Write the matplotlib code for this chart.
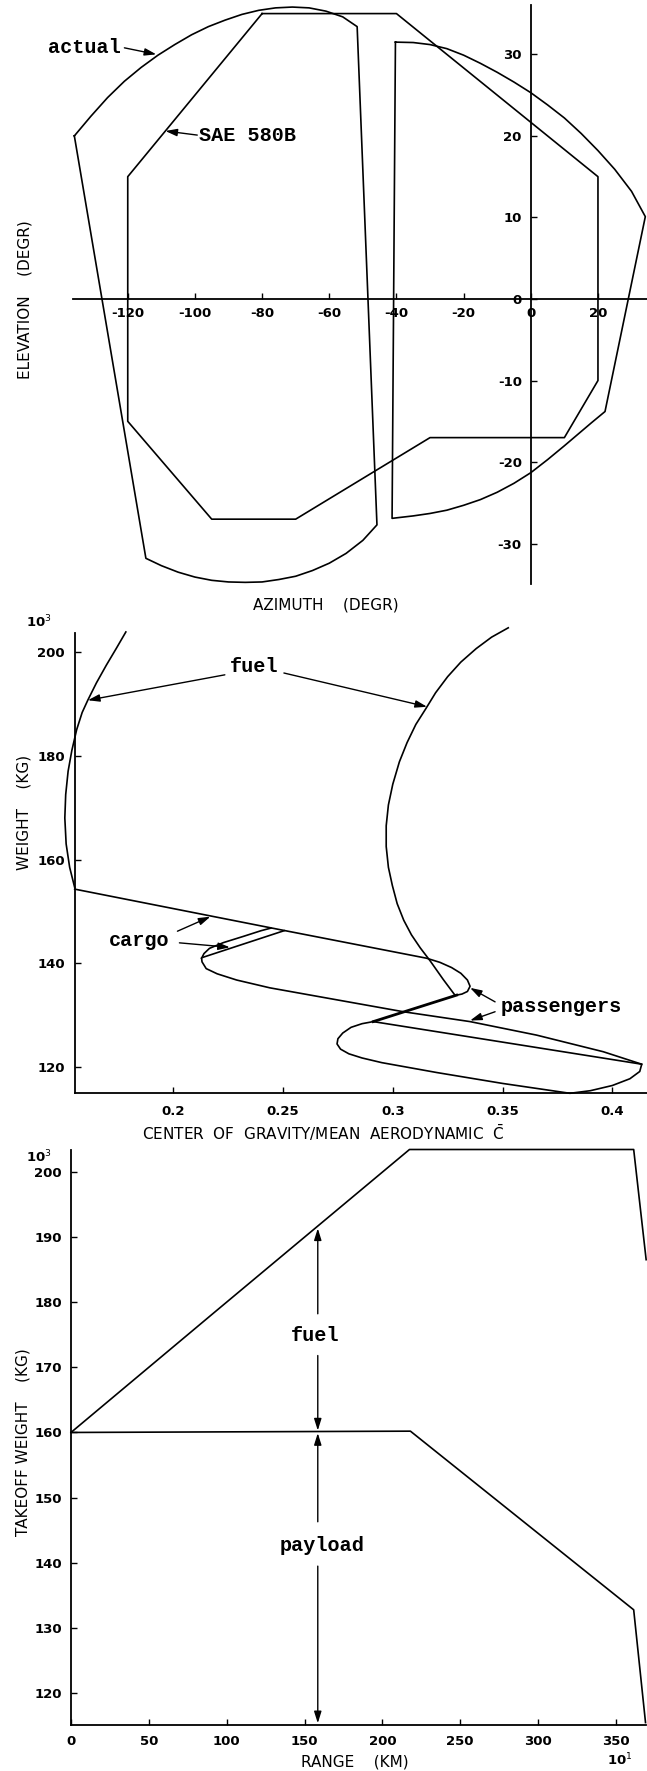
import matplotlib
matplotlib.use('Agg')
import matplotlib.pyplot as plt

plt.rcParams['font.family'] = ['DejaVu Sans']
plt.rcParams['axes.unicode_minus'] = False
plt.rcParams['mathtext.fontset'] = 'dejavusans'

W, H = 647, 1771

# ---- panel 1: elevation vs azimuth (degr)
actual_left_az = [-135.9, -131, -126, -121, -116, -111, -106, -101, -96, -91, -86, -81, -76, -71,
                  -66, -61, -56, -51.7,
                  -45.8, -50, -55, -60, -65, -70, -75, -80, -85, -90, -95, -100, -105, -110,
                  -114.6, -135.9]
actual_left_el = [20.0, 22.4, 24.7, 26.7, 28.4, 29.9, 31.2, 32.4, 33.4, 34.2, 34.9, 35.4, 35.7, 35.8,
                  35.7, 35.3, 34.6, 33.4,
                  -27.7, -29.6, -31.2, -32.4, -33.3, -34.0, -34.4, -34.7, -34.75, -34.7, -34.5,
                  -34.1, -33.5, -32.7, -31.8, 20.0]
actual_right_az = [-40.3, -35, -30, -25, -20, -15, -10, -5, 0, 5, 10, 15, 20, 25, 30, 34.1,
                   22.1, 18, 14, 10, 5, 0, -5, -10, -15, -20, -25, -30, -35, -41.3, -40.3]
actual_right_el = [31.5, 31.45, 31.2, 30.7, 29.9, 28.9, 27.8, 26.6, 25.3, 23.8, 22.2, 20.3, 18.2,
                   15.9, 13.2, 10.1,
                   -13.8, -15.2, -16.6, -18.0, -19.7, -21.3, -22.6, -23.7, -24.6, -25.3, -25.9,
                   -26.3, -26.6, -26.9, 31.5]
sae_az = [-80, -40, 20, 20, 10, -30, -70, -95, -120, -120, -80]
sae_el = [35, 35, 15, -10, -17, -17, -27, -27, -15, 15, 35]
az_ticks = [-120, -100, -80, -60, -40, -20, 0, 20]
el_ticks = [-30, -20, -10, 0, 10, 20, 30]

# ---- panel 2: weight (10^3 kg) vs centre of gravity
fuel_left_cg = [0.1784, 0.1740, 0.1695, 0.1650, 0.1611, 0.1585, 0.1560, 0.1538, 0.1521, 0.1510,
                0.1506, 0.1512, 0.1528, 0.1551]
fuel_left_w = [203.8, 200.6, 197.4, 194.0, 190.7, 188.3, 185.0, 181.0, 177.0, 172.5,
               168.0, 163.0, 158.5, 154.6]
fuel_right_cg = [0.3526, 0.3450, 0.3380, 0.3310, 0.3250, 0.3195, 0.3150, 0.3105, 0.3065, 0.3030,
                 0.3000, 0.2980, 0.2970, 0.2970, 0.2980, 0.2998, 0.3020, 0.3050, 0.3085, 0.3125,
                 0.3170, 0.3230, 0.3283]
fuel_right_w = [204.6, 202.8, 200.6, 198.0, 195.2, 192.1, 189.0, 186.0, 182.5, 178.8,
                174.5, 170.5, 166.5, 162.5, 158.5, 155.0, 151.5, 148.3, 145.5, 143.0,
                140.5, 136.9, 133.9]
main_cg = [0.1551, 0.2486, 0.3154, 0.3215, 0.3268, 0.3310, 0.3340, 0.3352, 0.3340, 0.3315, 0.3291]
main_w = [154.3, 146.5, 141.0, 140.2, 139.2, 138.1, 136.8, 135.6, 134.6, 134.1, 133.9]
cargo_a_cg = [0.2129, 0.2140, 0.2165, 0.2228, 0.2319, 0.2400, 0.2445]
cargo_a_w = [141.0, 141.9, 142.9, 144.0, 145.2, 146.3, 146.8]
cargo_b_cg = [0.2137, 0.2505]
cargo_b_w = [141.2, 146.3]
long_cg = [0.2129, 0.2131, 0.2150, 0.2200, 0.2289, 0.2440, 0.2744, 0.3048, 0.3352, 0.3655,
           0.3959, 0.4134]
long_w = [141.0, 140.3, 139.0, 138.0, 136.8, 135.3, 133.0, 130.7, 128.8, 126.2, 123.0, 120.6]
pax_link_cg = [0.3291, 0.2911]
pax_link_w = [133.9, 128.8]
pax_loop_cg = [0.2911, 0.2860, 0.2810, 0.2772, 0.2750, 0.2746, 0.2762, 0.2800, 0.2860, 0.2950,
               0.3200, 0.3500, 0.3807, 0.3900, 0.4000, 0.4080, 0.4125, 0.4134, 0.2911]
pax_loop_w = [128.8, 128.4, 127.7, 126.6, 125.5, 124.5, 123.5, 122.6, 121.8, 120.9,
              119.0, 116.9, 115.0, 115.5, 116.5, 117.8, 119.2, 120.6, 128.8]
cg_ticks = [0.2, 0.25, 0.3, 0.35, 0.4]
cg_labels = ['0.2', '0.25', '0.3', '0.35', '0.4']
w_ticks = [120, 140, 160, 180, 200]

# ---- panel 3: takeoff weight (10^3 kg) vs range (10 km)
range_total = [0, 91, 217.4, 361.4, 369.4]
w_total = [160.0, 178.2, 203.4, 203.4, 186.5]
range_payload = [0, 218, 361.4, 369.0]
w_payload = [160.0, 160.2, 132.8, 115.5]
range_ticks = [0, 50, 100, 150, 200, 250, 300, 350]
tow_ticks = [120, 130, 140, 150, 160, 170, 180, 190, 200]

LW = 1.2
mono = 'Liberation Mono'
note = dict(family=mono, fontsize=14.5, fontweight='bold', va='center')
arrow = dict(arrowstyle='-|>,head_length=0.7,head_width=0.22', color='k', lw=1.0,
             shrinkA=0, shrinkB=0)


def px_axes(left, right, top, bottom):
    return [left / W, 1 - bottom / H, (right - left) / W, (bottom - top) / H]


def style(ax, xpad, ypad):
    for s in ['top', 'right']:
        ax.spines[s].set_visible(False)
    for s in ['left', 'bottom']:
        ax.spines[s].set_linewidth(1.3)
    ax.tick_params(direction='in', length=4.5, width=1.0, labelsize=9.5)
    ax.tick_params(axis='x', pad=xpad)
    ax.tick_params(axis='y', pad=ypad)
    for lab in ax.get_xticklabels() + ax.get_yticklabels():
        lab.set_fontweight('bold')
    ax.patch.set_visible(False)


def arr(ax, start, tip):
    ax.annotate('', xy=tip, xytext=start, arrowprops=arrow, annotation_clip=False)


def ftext(x, y, s, **kw):
    fig.text(x / W, 1 - y / H, s, ha='center', va='center', **kw)


fig = plt.figure(figsize=(W / 100, H / 100), dpi=100)

# panel 1
ax1 = fig.add_axes(px_axes(73, 647, 3.8, 584.4))
ax1.set_xlim(-136.3, 34.6)
ax1.set_ylim(-35, 36.2)
ax1.spines['left'].set_position(('data', 0))
ax1.spines['bottom'].set_position(('data', 0))
ax1.spines['left'].set_bounds(-35, 36)
ax1.set_xticks(az_ticks)
ax1.set_yticks(el_ticks)
style(ax1, 5.5, 6.5)
ax1.plot(actual_left_az, actual_left_el, color='k', lw=LW, clip_on=False)
ax1.plot(actual_right_az, actual_right_el, color='k', lw=LW, clip_on=False)
ax1.plot(sae_az, sae_el, color='k', lw=LW, clip_on=False)
ax1.text(-122.0, 30.8, 'actual', ha='right', **note)
arr(ax1, (-121.0, 30.8), (-111.5, 30.0))
ax1.text(-98.8, 20.0, 'SAE 580B', ha='left', **note)
arr(ax1, (-99.3, 20.1), (-108.8, 20.6))

ftext(25, 300, 'ELEVATION    (DEGR)', fontsize=11, rotation=90)
ftext(326, 605, 'AZIMUTH    (DEGR)', fontsize=11)

# panel 2
ax2 = fig.add_axes(px_axes(74.7, 647, 633.0, 1093.3))
ax2.set_xlim(0.1551, 0.4158)
ax2.set_ylim(115.0, 203.6)
ax2.set_xticks(cg_ticks)
ax2.set_xticklabels(cg_labels)
ax2.set_yticks(w_ticks)
style(ax2, 8.6, 7.0)
for xs, ys in [(fuel_left_cg, fuel_left_w), (fuel_right_cg, fuel_right_w), (main_cg, main_w),
               (cargo_a_cg, cargo_a_w), (cargo_b_cg, cargo_b_w), (long_cg, long_w),
               (pax_loop_cg, pax_loop_w)]:
    ax2.plot(xs, ys, color='k', lw=LW, clip_on=False)
ax2.plot(pax_link_cg, pax_link_w, color='k', lw=2.0, clip_on=False)

ax2.text(0.2368, 197.1, 'fuel', ha='center', **note)
arr(ax2, (0.2235, 195.55), (0.1611, 190.66))
arr(ax2, (0.2504, 195.9), (0.3156, 189.4))
ax2.text(0.1843, 144.5, 'cargo', ha='center', **note)
arr(ax2, (0.2019, 146.2), (0.2169, 149.0))
arr(ax2, (0.2028, 143.96), (0.2258, 143.1))
ax2.text(0.3769, 131.7, 'passengers', ha='center', **note)
arr(ax2, (0.3466, 132.6), (0.3352, 135.3))
arr(ax2, (0.3466, 130.7), (0.3352, 129.0))

ftext(39, 622, '10$^3$', fontsize=9.5, fontweight='bold')
ftext(24.5, 812, 'WEIGHT    (KG)', fontsize=11, rotation=90)
ftext(323, 1133, r'CENTER  OF  GRAVITY/MEAN  AERODYNAMIC  $\bar{\mathrm{C}}$', fontsize=11)

# panel 3
ax3 = fig.add_axes(px_axes(71, 646.3, 1149.5, 1725.2))
ax3.set_xlim(0, 369.5)
ax3.set_ylim(115.1, 203.4)
ax3.set_xticks(range_ticks)
ax3.set_yticks(tow_ticks)
style(ax3, 7.2, 6.7)
ax3.plot(range_total, w_total, color='k', lw=LW, clip_on=False)
ax3.plot(range_payload, w_payload, color='k', lw=LW, clip_on=False)

ax3.text(156.5, 174.9, 'fuel', ha='center', **note)
arr(ax3, (158.5, 178.2), (158.5, 191.3))
arr(ax3, (158.5, 171.8), (158.5, 160.3))
ax3.text(161.0, 142.7, 'payload', ha='center', **note)
arr(ax3, (158.5, 146.3), (158.5, 159.9))
arr(ax3, (158.5, 139.5), (158.5, 115.4))

ftext(39, 1157, '10$^3$', fontsize=9.5, fontweight='bold')
ftext(23, 1442, 'TAKEOFF WEIGHT    (KG)', fontsize=11, rotation=90)
ftext(355, 1762, 'RANGE    (KM)', fontsize=11)
ftext(620, 1760, '10$^1$', fontsize=9.5, fontweight='bold')

fig.savefig('out.png', dpi=100)
